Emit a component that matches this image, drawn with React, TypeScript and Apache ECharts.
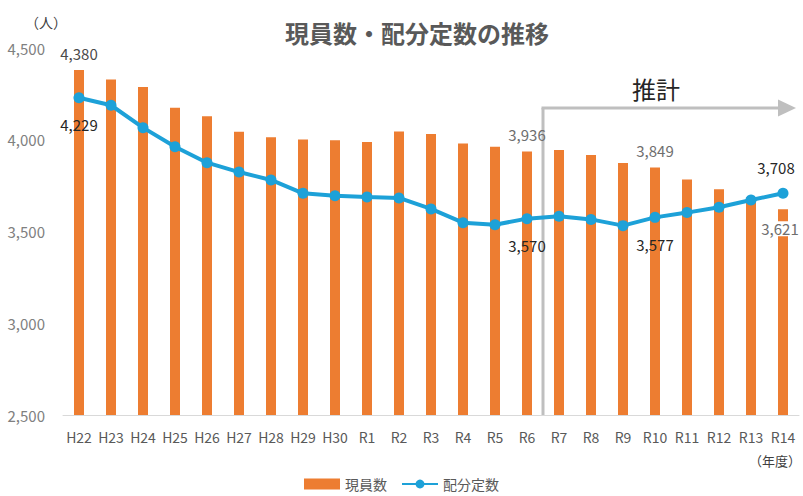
import React, { useEffect, useRef } from "react";
import * as echarts from "echarts";

const categories = ["H22","H23","H24","H25","H26","H27","H28","H29","H30","R1","R2","R3","R4","R5","R6","R7","R8","R9","R10","R11","R12","R13","R14"];
const staffActual = [4380,4329,4288,4175,4128,4044,4013,4002,3997,3988,4045,4031,3980,3962,3936,3944,3917,3873,3849,3784,3730,3685,3621];
const allocated = [4229,4188,4066,3962,3875,3824,3781,3708,3695,3688,3683,3623,3548,3537,3570,3583,3566,3532,3577,3603,3632,3672,3708];
const yTicks = { min: 2500, max: 4500, interval: 500 };
const barLabelIdx = [0, 14, 18, 22];
const lineLabelIdx = [0, 14, 18, 22];
const estimateStartIdx = 15; // R7: 推計 starts between R6 and R7

const FONT = "'Noto Sans CJK JP', 'Noto Sans', sans-serif";
const fmt = (v: number) => v.toLocaleString("en-US");

export default function App() {
  const ref = useRef<HTMLDivElement>(null);
  useEffect(() => {
    if (!ref.current) return;
    const chart = echarts.init(ref.current, null, { renderer: "svg" });

    const barData = staffActual.map((v, i) => {
      if (!barLabelIdx.includes(i)) return v;
      const last = i === categories.length - 1;
      return {
        value: v,
        label: {
          show: true,
          position: last ? "insideTop" : "top",
          distance: last ? 12 : 9,
          offset: last ? [-3, 0] : [0, 0],
          color: i === 0 ? "#4a4a4a" : "#6e6e6e",
          backgroundColor: last ? "#ffffff" : "transparent",
          padding: last ? [0, 1] : 0,
          fontSize: 15,
          fontFamily: FONT,
          formatter: (p: any) => fmt(p.value),
        },
      };
    });
    const lineData = allocated.map((v, i) => {
      if (!lineLabelIdx.includes(i)) return v;
      const last = i === categories.length - 1;
      return {
        value: v,
        label: {
          show: true,
          position: last ? "top" : "bottom",
          distance: last ? 13 : 14,
          offset: last ? [-7, 0] : [0, 0],
          color: "#262626",
          fontSize: 15,
          fontFamily: FONT,
          formatter: (p: any) => fmt(p.value),
        },
      };
    });

    chart.setOption({
      animation: false,
      textStyle: { fontFamily: FONT },
      title: {
        text: "現員数・配分定数の推移",
        left: 280,
        top: 15,
        textStyle: { fontSize: 24, fontWeight: "bold", color: "#595959", fontFamily: FONT },
      },
      grid: { left: 63, right: 4, top: 48, bottom: 81 },
      legend: {
        bottom: 0,
        left: "center",
        itemGap: 14,
        itemWidth: 36,
        itemHeight: 11,
        textStyle: { fontSize: 14, color: "#595959", fontFamily: FONT },
        data: [{ name: "現員数", icon: "rect" }, { name: "配分定数" }],
      },
      xAxis: {
        type: "category",
        data: categories,
        axisLine: { show: true, lineStyle: { color: "#d9d9d9", width: 1 } },
        axisTick: { show: false },
        axisLabel: { fontSize: 14, color: "#595959", margin: 15, interval: 0, fontFamily: FONT },
      },
      yAxis: {
        type: "value",
        min: yTicks.min,
        max: yTicks.max,
        interval: yTicks.interval,
        splitLine: { show: false },
        axisLine: { show: false },
        axisTick: { show: false },
        axisLabel: { fontSize: 15, color: "#808080", margin: 18, formatter: (v: number) => fmt(v), fontFamily: FONT },
      },
      series: [
        {
          name: "現員数",
          type: "bar",
          data: barData,
          barWidth: 10,
          itemStyle: { color: "#ed7d31" },
          z: 2,
        },
        {
          name: "配分定数",
          type: "line",
          data: lineData,
          symbol: "circle",
          symbolSize: 11,
          lineStyle: { color: "#1da1d8", width: 4 },
          itemStyle: { color: "#1da1d8" },
          z: 3,
        },
      ],
    });

    const xa = chart.convertToPixel({ xAxisIndex: 0 }, estimateStartIdx - 1) as number;
    const xb = chart.convertToPixel({ xAxisIndex: 0 }, estimateStartIdx) as number;
    const xm = (xa + xb) / 2;
    const yBase = chart.convertToPixel({ yAxisIndex: 0 }, yTicks.min) as number;
    const yArrow = 108;
    const tip = 796;
    const gray = "#bfbfbf";
    chart.setOption({
      graphic: [
        { type: "line", shape: { x1: xm, y1: yBase, x2: xm, y2: yArrow }, style: { stroke: gray, lineWidth: 3 }, z: 1 },
        { type: "line", shape: { x1: xm - 1.5, y1: yArrow, x2: tip - 16, y2: yArrow }, style: { stroke: gray, lineWidth: 3 }, z: 1 },
        { type: "polygon", shape: { points: [[tip - 18, yArrow - 8.5], [tip, yArrow], [tip - 18, yArrow + 8.5]] }, style: { fill: gray }, z: 1 },
        { type: "text", x: 656, y: 88, style: { text: "推計", fontSize: 24, fill: "#262626", align: "center", verticalAlign: "middle", fontFamily: FONT } },
        { type: "text", x: 46, y: 22, style: { text: "（人）", fontSize: 14, fill: "#404040", align: "center", verticalAlign: "middle", fontFamily: FONT } },
        { type: "text", x: 801, y: 460, style: { text: "（年度）", fontSize: 13, fill: "#404040", align: "right", verticalAlign: "middle", fontFamily: FONT } },
      ],
    });

    return () => chart.dispose();
  }, []);
  return <div ref={ref} style={{ width: 803, height: 496, position: "absolute", left: 0, top: 0 }} />;
}
